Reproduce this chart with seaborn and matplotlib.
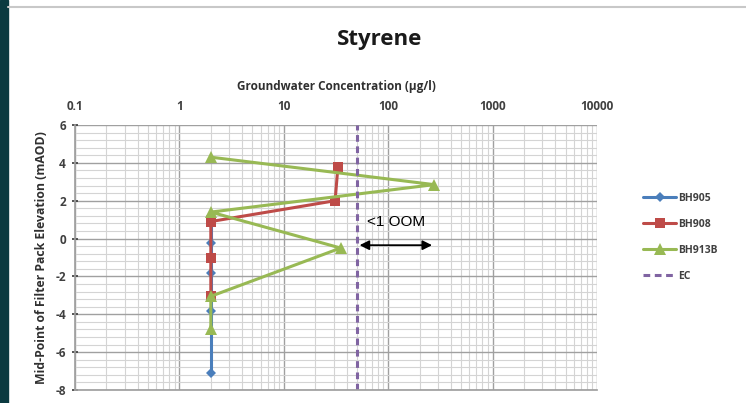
import matplotlib
matplotlib.use("Agg")
import matplotlib.pyplot as plt
from matplotlib.ticker import FixedLocator, MultipleLocator, LogLocator, NullFormatter
import seaborn as sns
import pandas as pd

sns.set_theme(style="white")
plt.rcParams['font.family'] = ['Open Sans', 'DejaVu Sans']

# Data
bh905_x = [2, 2, 2, 2, 2]
bh905_y = [1.2, -0.25, -1.8, -3.8, -7.1]
bh908_x = [33, 31, 2, 2, 2]
bh908_y = [3.8, 2.0, 0.9, -1.0, -3.05]
bh913b_x = [2, 275, 2, 35, 2, 2]
bh913b_y = [4.3, 2.85, 1.4, -0.5, -3.05, -4.8]
ec_value = 50
x_ticks = [0.1, 1, 10, 100, 1000, 10000]
x_tick_labels = ["0.1", "1", "10", "100", "1000", "10000"]
y_ticks = [6, 4, 2, 0, -2, -4, -6, -8]

c_blue = "#4a7ebb"
c_red = "#be4b48"
c_green = "#98b954"
c_purple = "#8064a2"

fig = plt.figure(figsize=(7.46, 4.03), dpi=100)
ax = fig.add_axes([75/746, 1-390/403, (597-75)/746, (390-125)/403])

ax.set_xscale("log")
ax.set_xlim(0.1, 10000)
ax.set_ylim(-8, 6)

# grid
ax.xaxis.set_major_locator(FixedLocator(x_ticks))
ax.xaxis.set_minor_locator(LogLocator(base=10, subs=range(2, 10), numticks=20))
ax.xaxis.set_minor_formatter(NullFormatter())
ax.yaxis.set_major_locator(FixedLocator(y_ticks))
ax.yaxis.set_minor_locator(MultipleLocator(0.4))
ax.grid(which="major", color="#a0a0a0", lw=1.0)
ax.grid(which="minor", color="#d4d4d4", lw=0.8)
ax.set_axisbelow(True)

df905 = pd.DataFrame({"x": bh905_x, "y": bh905_y})
df908 = pd.DataFrame({"x": bh908_x, "y": bh908_y})
df913 = pd.DataFrame({"x": bh913b_x, "y": bh913b_y})

common = dict(sort=False, estimator=None, ax=ax, lw=2.2, markeredgewidth=0)
sns.lineplot(data=df905, x="x", y="y", color=c_blue, marker="D", markersize=5,
             label="BH905", **common)
sns.lineplot(data=df908, x="x", y="y", color=c_red, marker="s", markersize=7,
             label="BH908", **common)
sns.lineplot(data=df913, x="x", y="y", color=c_green, marker="^", markersize=8,
             label="BH913B", **common)
ax.plot([ec_value, ec_value], [-8, 6], color=c_purple, lw=2.2, ls=(0, (2.2, 1.5)), label="EC")

ax.set_xticks(x_ticks)
ax.set_xticklabels(x_tick_labels)
ax.set_yticks(y_ticks)
ax.set_yticklabels([str(v) for v in y_ticks])
ax.xaxis.tick_top()
ax.xaxis.set_label_position("top")
ax.tick_params(axis="x", which="both", length=0, labelsize=8.5, pad=9, colors="#404040")
ax.tick_params(axis="y", which="major", length=5, labelsize=8.5, colors="#404040", left=True,
               direction="inout", pad=4)
ax.tick_params(axis="y", which="minor", length=0)
for lab in ax.get_xticklabels() + ax.get_yticklabels():
    lab.set_fontweight("bold")
ax.set_xlabel("Groundwater Concentration (µg/l)", fontsize=8.5, fontweight="bold", labelpad=7,
              color="#303030")
ax.set_ylabel("Mid-Point of Filter Pack Elevation (mAOD)", fontsize=8.8, fontweight="bold",
              labelpad=5, color="#303030")

for s in ["top", "right"]:
    ax.spines[s].set_visible(False)
ax.spines["left"].set_color("#a0a0a0")
ax.spines["bottom"].set_color("#a0a0a0")

# annotation arrow
ax.annotate("", xy=(ec_value, -0.35), xytext=(280, -0.35),
            arrowprops=dict(arrowstyle="<|-|>", color="black", lw=1.3, mutation_scale=14))
ax.text(118, 0.85, "<1 OOM", fontsize=11, ha="center", va="center", color="black",
        family=["Liberation Sans", "DejaVu Sans"])

leg = ax.legend(loc="upper left", bbox_to_anchor=(1.07, 0.78), frameon=False, fontsize=7.5,
                handlelength=3.2, labelspacing=1.45, handletextpad=0.2)
for t in leg.get_texts():
    t.set_color("#404040")
    t.set_fontweight("bold")

fig.text(380/746, 1-40/403, "Styrene", ha="center", va="center", fontsize=16, fontweight="bold",
         color="#1a1a1a")

# decorations: dark left strip and top line
fig.patches.append(plt.Rectangle((0, 0), 8/746, 1, transform=fig.transFigure, color="#0b3a40", zorder=0))
fig.lines.append(plt.Line2D([8/746, 1], [1-7/403, 1-7/403], transform=fig.transFigure, color="#c8c8c8", lw=1.5))

fig.savefig("out.png", dpi=100)
